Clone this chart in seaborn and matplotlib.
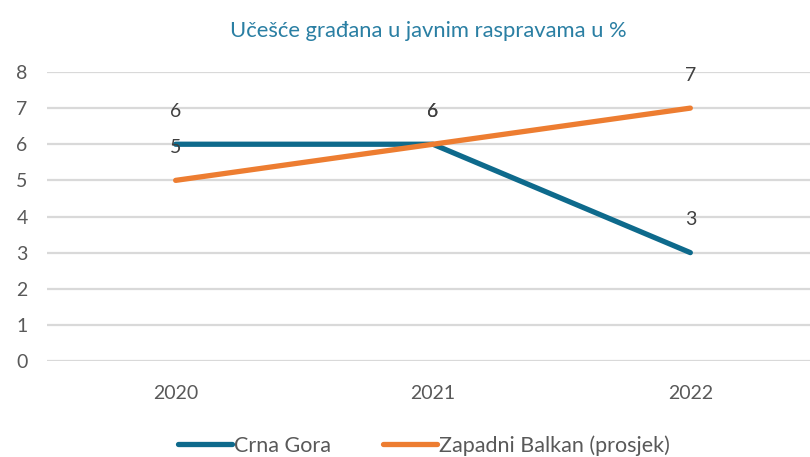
import matplotlib
matplotlib.use('Agg')
import matplotlib.pyplot as plt
import seaborn as sns
import pandas as pd

godine = ['2020', '2021', '2022']
crna_gora = [6, 6, 3]
zapadni_balkan = [5, 6, 7]
serije = ['Crna Gora', 'Zapadni Balkan (prosjek)']
boje = ['#0E6A8C', '#ED7D31']

df = pd.DataFrame({
    'poz': list(range(len(godine))) * 2,
    'vrijednost': crna_gora + zapadni_balkan,
    'serija': [serije[0]] * len(godine) + [serije[1]] * len(godine),
})

sns.set_style('white')
plt.rcParams['font.family'] = ['Lato', 'DejaVu Sans']

fig = plt.figure(figsize=(8.1, 4.57), dpi=100)
ax = fig.add_axes([0.058, 0.21, 0.942, 0.6325])

sns.lineplot(data=df, x='poz', y='vrijednost', hue='serija', palette=boje,
             linewidth=3.8, ax=ax, solid_capstyle='round')

tekst = '#595959'
for vals in (crna_gora, zapadni_balkan):
    for i, v in enumerate(vals):
        ax.annotate(str(v), (i, v), xytext=(0, 33), textcoords='offset pixels',
                    ha='center', va='center', fontsize=14, color='#404040')

ax.set_xlim(-0.5, 2.465)
ax.set_ylim(0, 8)
ax.set_yticks(range(0, 9))
ax.set_xticks(range(len(godine)))
ax.set_xticklabels(godine)
ax.grid(axis='y', color='#D9D9D9', linewidth=1.6)
ax.set_axisbelow(True)
for s in ax.spines.values():
    s.set_visible(False)
ax.tick_params(axis='y', length=0, pad=14, labelsize=14, labelcolor=tekst)
ax.tick_params(axis='x', length=0, pad=17, labelsize=14, labelcolor=tekst)
ax.set_xlabel('')
ax.set_ylabel('')
ax.set_title('Učešće građana u javnim raspravama u %', fontsize=15.8,
             color='#2A7FA3', pad=25)

ax.legend(loc='upper center', bbox_to_anchor=(0.494, -0.19), ncol=2, frameon=False,
          fontsize=15.5, labelcolor=tekst, handlelength=2.5, handletextpad=0.1,
          columnspacing=2.4)

fig.savefig('out.png', dpi=100)
